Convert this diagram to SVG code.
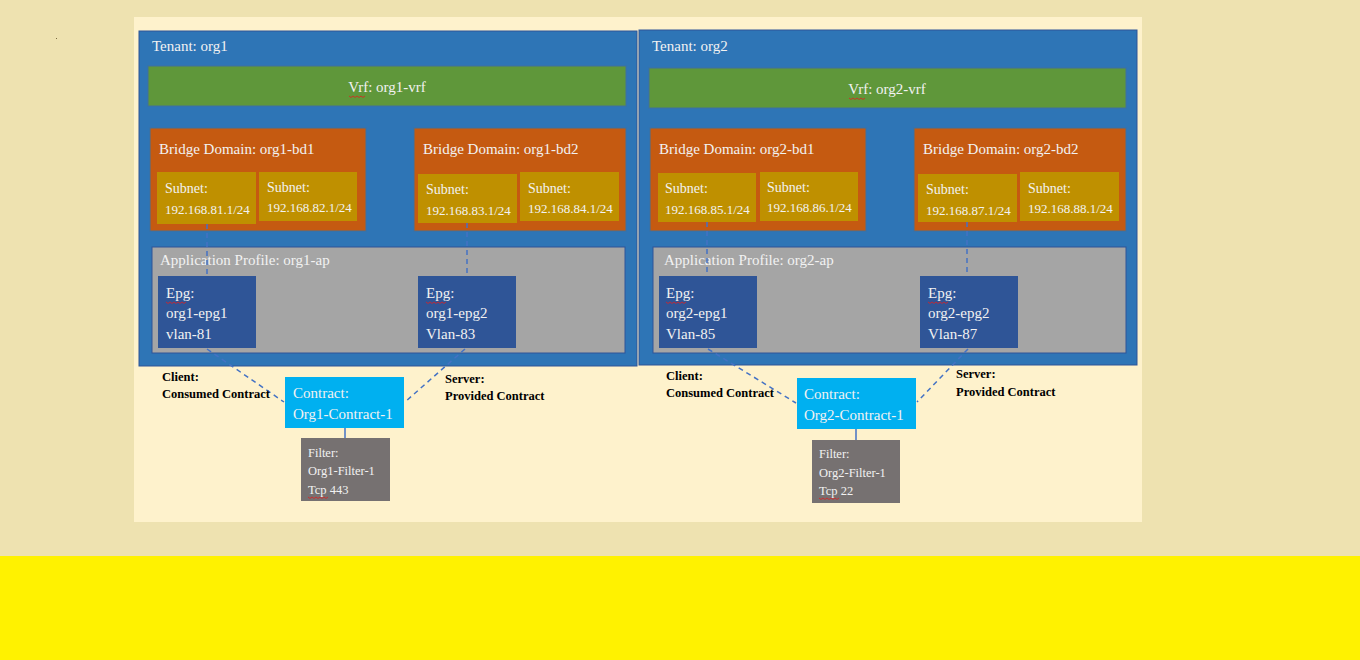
<svg xmlns="http://www.w3.org/2000/svg" width="1360" height="660" viewBox="0 0 1360 660">
<style>
.t{font-family:"Liberation Serif","Times New Roman",serif;fill:#F2F2F2}
.h{font-size:15px}
.s{font-size:14px}
.ip{font-size:13px}
.f{font-size:12.5px}
.lb{font-family:"Liberation Serif","Times New Roman",serif;font-size:12.5px;font-weight:bold;fill:#000}
.tenant{fill:#2E75B6;stroke:#2F5597;stroke-width:1}
.vrf{fill:#5F973A;stroke:#41719C;stroke-width:1}
.bd{fill:#C55A11;stroke:#41719C;stroke-width:1}
.sub{fill:#BF9000}
.ap{fill:#A5A5A5;stroke:#2F5597;stroke-width:1}
.epg{fill:#2F5597}
.con{fill:#00B0F0}
.fil{fill:#767171}
.dash{stroke:#4472C4;stroke-width:1.5;stroke-dasharray:5,4;fill:none}
.solid{stroke:#4472C4;stroke-width:1.5;fill:none}
.sq{stroke:#E02020;stroke-width:0.8;fill:none}
</style>
<rect x="0" y="0" width="1360" height="556" fill="#EEE2B0"/>
<rect x="0" y="556" width="1360" height="104" fill="#FFF200"/>
<rect x="134" y="17" width="1008" height="505" fill="#FEF2CC"/>

<g id="tenant-org1">
<rect class="tenant" x="139" y="31" width="498" height="335"/>
<text class="t h" x="152" y="51">Tenant: org1</text>
</g>
<g id="tenant-org2">
<rect class="tenant" x="639" y="30" width="498" height="335"/>
<text class="t h" x="652" y="51">Tenant: org2</text>
</g>

<g id="vrf-org1">
<rect class="vrf" x="148" y="66" width="478" height="40"/>
<text class="t h" x="387" y="92" text-anchor="middle">Vrf: org1-vrf</text>
<path class="sq" d="M349,96 l2,1.5 l2,-1.5 l2,1.5 l2,-1.5 l2,1.5 l2,-1.5 l2,1.5 l2,-1.5"/>
</g>
<g id="vrf-org2">
<rect class="vrf" x="649" y="68" width="477" height="40"/>
<text class="t h" x="887" y="94" text-anchor="middle">Vrf: org2-vrf</text>
<path class="sq" d="M849,98 l2,1.5 l2,-1.5 l2,1.5 l2,-1.5 l2,1.5 l2,-1.5 l2,1.5 l2,-1.5"/>
</g>

<g id="bd-org1-bd1">
<rect class="bd" x="150" y="128" width="216" height="103"/>
<text class="t h" x="159" y="154">Bridge Domain: org1-bd1</text>
</g>
<g id="subnet-81">
<rect class="sub" x="157" y="172" width="99" height="52"/>
<text class="t s" x="165" y="193">Subnet:</text>
<text class="t ip" x="165" y="214">192.168.81.1/24</text>
</g>
<g id="subnet-82">
<rect class="sub" x="259" y="172" width="98" height="49"/>
<text class="t s" x="267" y="192">Subnet:</text>
<text class="t ip" x="267" y="212">192.168.82.1/24</text>
</g>
<g id="bd-org1-bd2">
<rect class="bd" x="414" y="128" width="212" height="103"/>
<text class="t h" x="423" y="154">Bridge Domain: org1-bd2</text>
</g>
<g id="subnet-83">
<rect class="sub" x="418" y="174" width="99" height="49"/>
<text class="t s" x="426" y="194">Subnet:</text>
<text class="t ip" x="426" y="215">192.168.83.1/24</text>
</g>
<g id="subnet-84">
<rect class="sub" x="520" y="172" width="99" height="49"/>
<text class="t s" x="528" y="193">Subnet:</text>
<text class="t ip" x="528" y="213">192.168.84.1/24</text>
</g>

<g id="bd-org2-bd1">
<rect class="bd" x="650" y="128" width="216" height="103"/>
<text class="t h" x="659" y="154">Bridge Domain: org2-bd1</text>
</g>
<g id="subnet-85">
<rect class="sub" x="658" y="173" width="98" height="49"/>
<text class="t s" x="665" y="193">Subnet:</text>
<text class="t ip" x="665" y="214">192.168.85.1/24</text>
</g>
<g id="subnet-86">
<rect class="sub" x="760" y="172" width="98" height="49"/>
<text class="t s" x="767" y="192">Subnet:</text>
<text class="t ip" x="767" y="212">192.168.86.1/24</text>
</g>
<g id="bd-org2-bd2">
<rect class="bd" x="914" y="128" width="212" height="103"/>
<text class="t h" x="923" y="154">Bridge Domain: org2-bd2</text>
</g>
<g id="subnet-87">
<rect class="sub" x="918" y="174" width="99" height="48"/>
<text class="t s" x="926" y="194">Subnet:</text>
<text class="t ip" x="926" y="215">192.168.87.1/24</text>
</g>
<g id="subnet-88">
<rect class="sub" x="1020" y="172" width="99" height="49"/>
<text class="t s" x="1028" y="193">Subnet:</text>
<text class="t ip" x="1028" y="213">192.168.88.1/24</text>
</g>

<g id="ap-org1">
<rect class="ap" x="152" y="247" width="473" height="106"/>
<text class="t h" x="160" y="265">Application Profile: org1-ap</text>
</g>
<g id="ap-org2">
<rect class="ap" x="653" y="247" width="473" height="106"/>
<text class="t h" x="664" y="265">Application Profile: org2-ap</text>
</g>

<g id="connectors">
<line class="dash" x1="207" y1="224" x2="207" y2="276"/>
<line class="dash" x1="467" y1="223" x2="467" y2="276"/>
<line class="dash" x1="707" y1="222" x2="707" y2="276"/>
<line class="dash" x1="967" y1="222" x2="967" y2="276"/>
<line class="dash" x1="207" y1="349" x2="284" y2="402"/>
<line class="dash" x1="465" y1="349" x2="405" y2="402"/>
<line class="dash" x1="708" y1="349" x2="796" y2="403"/>
<line class="dash" x1="968" y1="349" x2="917" y2="402"/>
<line class="solid" x1="345" y1="428" x2="345" y2="438"/>
<line class="solid" x1="856" y1="429" x2="856" y2="440"/>
</g>

<g id="epg-org1-epg1">
<rect class="epg" x="158" y="276" width="98" height="72"/>
<text class="t h" x="166" y="298">Epg:</text>
<text class="t h" x="166" y="318">org1-epg1</text>
<text class="t h" x="166" y="339">vlan-81</text>
<path class="sq" d="M166,302 l2,1.5 l2,-1.5 l2,1.5 l2,-1.5 l2,1.5 l2,-1.5 l2,1.5 l2,-1.5 l2,1.5 l2,-1.5"/>
</g>
<g id="epg-org1-epg2">
<rect class="epg" x="418" y="276" width="98" height="72"/>
<text class="t h" x="426" y="298">Epg:</text>
<text class="t h" x="426" y="318">org1-epg2</text>
<text class="t h" x="426" y="339">Vlan-83</text>
<path class="sq" d="M426,302 l2,1.5 l2,-1.5 l2,1.5 l2,-1.5 l2,1.5 l2,-1.5 l2,1.5 l2,-1.5 l2,1.5 l2,-1.5"/>
</g>
<g id="epg-org2-epg1">
<rect class="epg" x="659" y="276" width="98" height="72"/>
<text class="t h" x="666" y="298">Epg:</text>
<text class="t h" x="666" y="318">org2-epg1</text>
<text class="t h" x="666" y="339">Vlan-85</text>
<path class="sq" d="M666,302 l2,1.5 l2,-1.5 l2,1.5 l2,-1.5 l2,1.5 l2,-1.5 l2,1.5 l2,-1.5 l2,1.5 l2,-1.5"/>
</g>
<g id="epg-org2-epg2">
<rect class="epg" x="920" y="276" width="98" height="72"/>
<text class="t h" x="928" y="298">Epg:</text>
<text class="t h" x="928" y="318">org2-epg2</text>
<text class="t h" x="928" y="339">Vlan-87</text>
<path class="sq" d="M928,302 l2,1.5 l2,-1.5 l2,1.5 l2,-1.5 l2,1.5 l2,-1.5 l2,1.5 l2,-1.5 l2,1.5 l2,-1.5"/>
</g>

<g id="contract-org1">
<rect class="con" x="285" y="377" width="119" height="51"/>
<text class="t h" x="293" y="398">Contract:</text>
<text class="t h" x="293" y="419">Org1-Contract-1</text>
</g>
<g id="contract-org2">
<rect class="con" x="797" y="378" width="119" height="51"/>
<text class="t h" x="804" y="399">Contract:</text>
<text class="t h" x="804" y="420">Org2-Contract-1</text>
</g>

<g id="filter-org1">
<rect class="fil" x="301" y="438" width="89" height="63"/>
<text class="t f" x="308" y="457">Filter:</text>
<text class="t f" x="308" y="475">Org1-Filter-1</text>
<text class="t f" x="308" y="494">Tcp 443</text>
<path class="sq" d="M308,497 l2,1.5 l2,-1.5 l2,1.5 l2,-1.5 l2,1.5 l2,-1.5 l2,1.5 l2,-1.5 l2,1.5 l2,-1.5"/>
</g>
<g id="filter-org2">
<rect class="fil" x="812" y="440" width="88" height="63"/>
<text class="t f" x="819" y="458">Filter:</text>
<text class="t f" x="819" y="477">Org2-Filter-1</text>
<text class="t f" x="819" y="495">Tcp 22</text>
<path class="sq" d="M819,498 l2,1.5 l2,-1.5 l2,1.5 l2,-1.5 l2,1.5 l2,-1.5 l2,1.5 l2,-1.5 l2,1.5 l2,-1.5"/>
</g>

<g id="labels">
<text class="lb" x="162" y="381">Client:</text>
<text class="lb" x="162" y="398">Consumed Contract</text>
<text class="lb" x="445" y="383">Server:</text>
<text class="lb" x="445" y="400">Provided Contract</text>
<text class="lb" x="666" y="380">Client:</text>
<text class="lb" x="666" y="397">Consumed Contract</text>
<text class="lb" x="956" y="378">Server:</text>
<text class="lb" x="956" y="396">Provided Contract</text>
</g>
<rect x="56" y="38" width="1" height="1" fill="#7A6A40"/>
</svg>
